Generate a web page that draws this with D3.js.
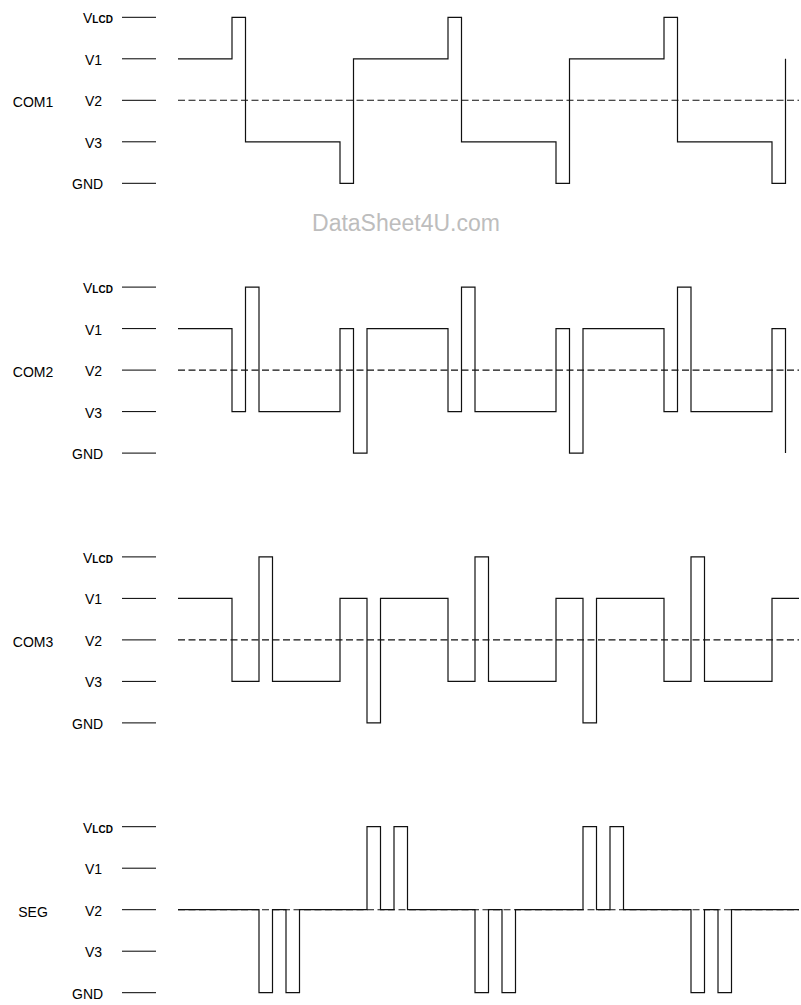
<!DOCTYPE html>
<html>
<head>
<meta charset="utf-8">
<script src="https://cdn.jsdelivr.net/npm/d3@7/dist/d3.min.js"></script>
<style>
  html, body { margin: 0; padding: 0; background: #fff; }
  svg { display: block; }
</style>
</head>
<body>
<script>
// ---- data ----
const levels = ["VLCD", "V1", "V2", "V3", "GND"];
const signals = ["COM1", "COM2", "COM3", "SEG"];

const com1Times  = [4, 8, 9, 16, 17, 24, 25, 32, 33, 40, 41, 48, 49];
const com1Levels = ["V1","VLCD","V3","GND","V1","VLCD","V3","GND","V1","VLCD","V3","GND","V1"];

const com2Times  = [4, 8, 9, 10, 16, 17, 18, 24, 25, 26, 32, 33, 34, 40, 41, 42, 48, 49];
const com2Levels = ["V1","V3","VLCD","V3","V1","GND","V1","V3","VLCD","V3","V1","GND","V1","V3","VLCD","V3","V1","GND"];

const com3Times  = [4, 8, 10, 11, 16, 18, 19, 24, 26, 27, 32, 34, 35, 40, 42, 43, 48, 50];
const com3Levels = ["V1","V3","VLCD","V3","V1","GND","V1","V3","VLCD","V3","V1","GND","V1","V3","VLCD","V3","V1","V1"];

const segTimes  = [4, 10, 11, 12, 13, 18, 19, 20, 21, 26, 27, 28, 29, 34, 35, 36, 37, 42, 43, 44, 45, 50];
const segLevels = ["V2","GND","V2","GND","V2","VLCD","V2","VLCD","V2","GND","V2","GND","V2","VLCD","V2","VLCD","V2","GND","V2","GND","V2","V2"];

const refStart = 4, refEnd = 50;   // dashed V2 reference line span (time units)
const watermark = "DataSheet4U.com";

// ---- layout ----
const W = 801, H = 1005;
const panelTop0 = 17.3, panelStep = 269.8, levelSpan = 166;
const labelX = { VLCD: 83, V1: 85, V2: 85, V3: 85, GND: 72 };

const svg = d3.select("body").append("svg").attr("width", W).attr("height", H);

const x = d3.scaleLinear().domain([0, 50]).range([124, 799]);

const series = [
  { name: signals[0], t: com1Times, l: com1Levels },
  { name: signals[1], t: com2Times, l: com2Levels },
  { name: signals[2], t: com3Times, l: com3Levels },
  { name: signals[3], t: segTimes,  l: segLevels }
];

series.forEach((s, i) => {
  const top = panelTop0 + panelStep * i;
  const y = d3.scalePoint().domain(levels).range([top, top + levelSpan]);
  const g = svg.append("g");

  // level tick marks
  g.selectAll("line.tick").data(levels).join("line")
    .attr("x1", 122).attr("x2", 156)
    .attr("y1", d => y(d)).attr("y2", d => y(d))
    .attr("stroke", "#000").attr("stroke-width", 1);

  // level labels
  const lab = g.selectAll("text.lvl").data(levels).join("text")
    .attr("x", d => labelX[d]).attr("y", d => y(d) + 6)
    .attr("font-family", "'Liberation Sans', Arial, sans-serif")
    .attr("font-size", 14).attr("fill", "#000");
  lab.each(function(d) {
    const el = d3.select(this);
    if (d === "VLCD") {
      el.append("tspan").text("V");
      el.append("tspan").attr("font-size", 10).attr("font-weight", "bold").text("LCD");
    } else {
      el.text(d);
    }
  });

  // signal name
  g.append("text")
    .attr("x", 33).attr("y", y("V2") + 7)
    .attr("text-anchor", "middle")
    .attr("font-family", "'Liberation Sans', Arial, sans-serif")
    .attr("font-size", 14).attr("fill", "#000")
    .text(s.name);

  // dashed reference line at V2
  g.append("line")
    .attr("x1", x(refStart)).attr("x2", x(refEnd))
    .attr("y1", y("V2")).attr("y2", y("V2"))
    .attr("stroke", "#111").attr("stroke-width", 1.1)
    .attr("stroke-dasharray", "7,3.5");

  // waveform
  const pts = s.t.map((t, k) => [t, s.l[k]]);
  const line = d3.line().x(d => x(d[0])).y(d => y(d[1])).curve(d3.curveStepAfter);
  g.append("path")
    .attr("d", line(pts))
    .attr("fill", "none")
    .attr("stroke", "#111").attr("stroke-width", 1.2);
});

// watermark
svg.append("text")
  .attr("x", 406).attr("y", 231)
  .attr("text-anchor", "middle")
  .attr("font-family", "'Liberation Sans', Arial, sans-serif")
  .attr("font-size", 23).attr("fill", "#bdbdbd")
  .text(watermark);
</script>
</body>
</html>
